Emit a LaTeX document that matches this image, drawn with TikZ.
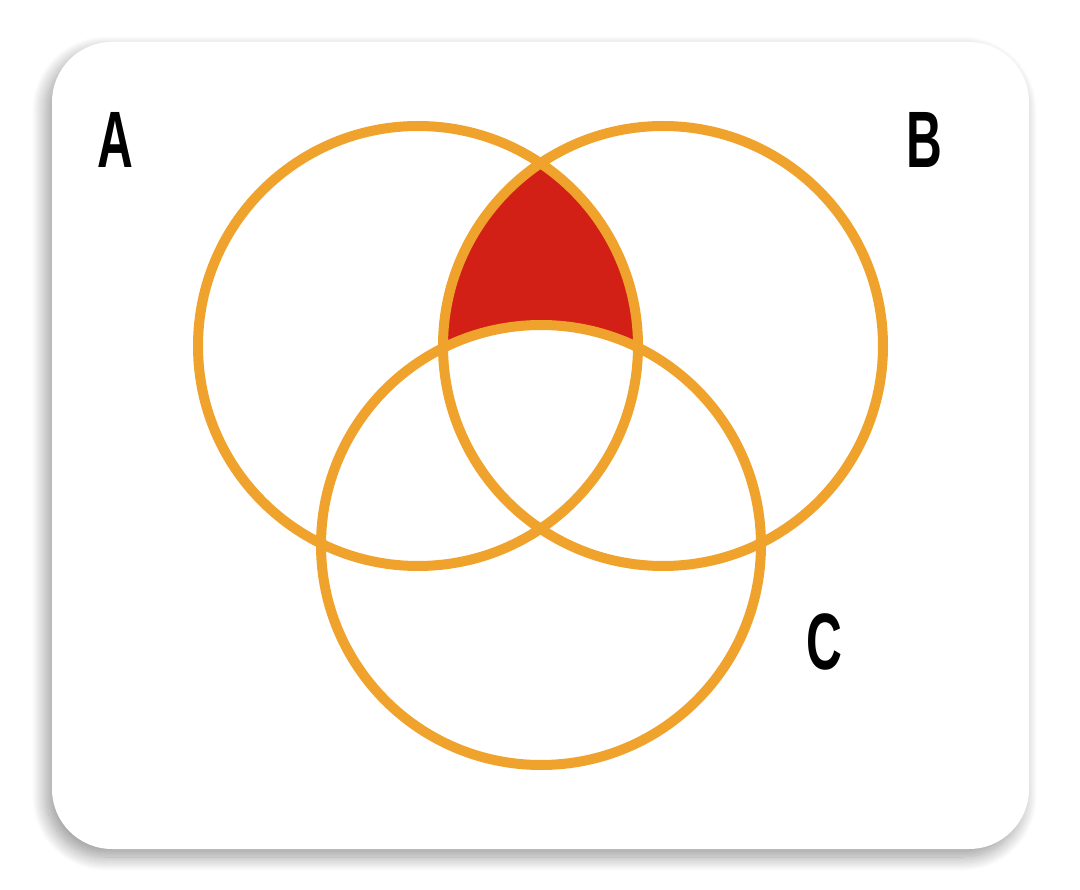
\documentclass[tikz,border=0pt]{standalone}
\usepackage{fontspec}
\setmainfont{Liberation Sans}
\usetikzlibrary{shadows.blur}

\definecolor{venn_ring}{HTML}{F0A32C}
\definecolor{venn_red}{HTML}{D22016}

\begin{document}
\begin{tikzpicture}[
  x=1pt,
  y=-1pt,
% card with soft shadow
  card/.style={
    fill=white,
    rounded corners=60pt,
    blur shadow={shadow xshift=-6pt, shadow yshift=-8pt,
      shadow blur radius=14pt, shadow blur steps=20, shadow opacity=40}
  },
% orange rings
  ring/.style={
    draw=venn_ring,
    line width=10pt
  },
  set_label/.style={
    font=\fontsize{80}{80}\selectfont\bfseries,
    xscale=0.62,
    inner sep=0pt
  }
]

  \useasboundingbox (0,0) rectangle (1080,890);

  % Card
  \path[card] (52,42) rectangle (1029,849);

  % Shaded region: A and B, not C
  \begin{scope}
    \clip (418,346) circle[radius=220];
    \clip (663,346) circle[radius=220];
    \fill[venn_red, even odd rule] (0,0) rectangle (1080,890)
      (541,545) circle[radius=220];
  \end{scope}

  % Rings
  \draw[ring] (418,346) circle[radius=220];
  \draw[ring] (663,346) circle[radius=220];
  \draw[ring] (541,545) circle[radius=220];

  % Labels
  \node[set_label] (labA) at (115,140) {A};
  \node[set_label] (labB) at (924,140) {B};
  \node[set_label] (labC) at (824,642) {C};

\end{tikzpicture}
\end{document}
